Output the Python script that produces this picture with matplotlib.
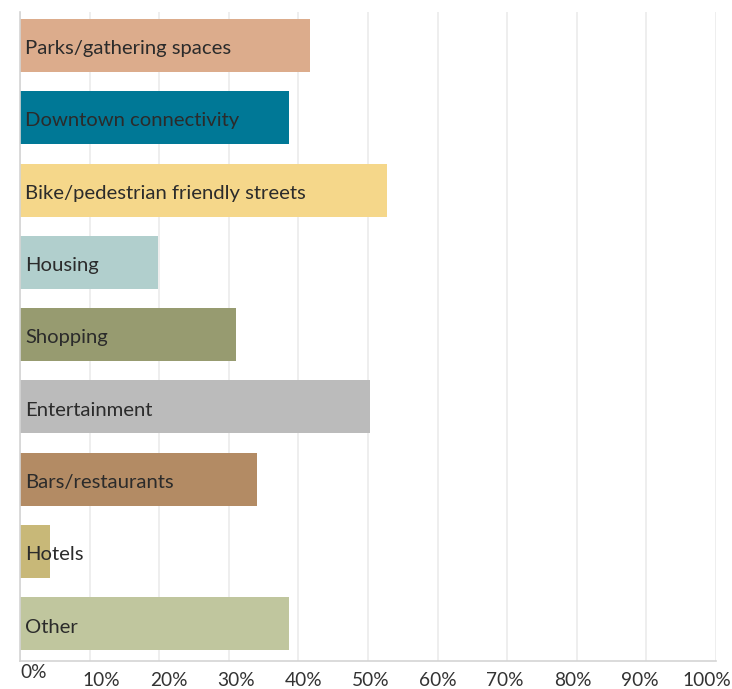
import matplotlib
matplotlib.use("Agg")
import matplotlib.pyplot as plt
import numpy as np

categories = ["Parks/gathering spaces", "Downtown connectivity",
              "Bike/pedestrian friendly streets", "Housing", "Shopping",
              "Entertainment", "Bars/restaurants", "Hotels", "Other"]
shares = [41.6, 38.6, 52.8, 19.8, 31.1, 50.3, 34.1, 4.3, 38.6]
bar_colors = ["#DCAC8C", "#007896", "#F5D78A", "#B1CFCD", "#979B70",
              "#BBBBBB", "#B38B64", "#C8B878", "#C0C69E"]
tick_values = list(range(0, 101, 10))
tick_labels = ["%d%%" % v for v in tick_values]

plt.rcParams["font.family"] = ["Lato", "DejaVu Sans"]

fig = plt.figure(figsize=(7.32, 6.89), dpi=100)
ax = fig.add_axes([20 / 732, 28 / 689, 696 / 732, 649 / 689])

y = np.arange(len(categories))
ax.barh(y, shares, height=0.733, color=bar_colors, zorder=2)

# category names sit inside the bars, baseline a little below centre
for i, name in enumerate(categories):
    ax.text(0.75, i + 0.12, name, va="baseline", ha="left", fontsize=14.6,
            color="#2b2b2b", zorder=3)

ax.set_xlim(0, 100)
ax.set_ylim(len(categories) - 0.486, -0.463)

# vertical grid
ax.set_xticks(tick_values)
ax.set_xticklabels([])
ax.tick_params(axis="x", length=0)
ax.set_yticks([])
ax.grid(axis="x", color="#ebebeb", linewidth=1.2, zorder=0)

for side in ["top", "right"]:
    ax.spines[side].set_visible(False)
ax.spines["left"].set_color("#d4d4d4")
ax.spines["bottom"].set_color("#d4d4d4")
ax.spines["left"].set_linewidth(1.2)
ax.spines["bottom"].set_linewidth(1.2)

# percent labels are spread across the full width under the axis
label_x = np.linspace(34, 707, len(tick_labels))
for i, (lx, lab) in enumerate(zip(label_x, tick_labels)):
    ty = 689 - 678 if i == 0 else 689 - 686
    fig.text(lx / 732, ty / 689, lab, ha="center", va="baseline",
             fontsize=13.8, color="#333333")

fig.savefig("out.png", dpi=100, facecolor="white")
